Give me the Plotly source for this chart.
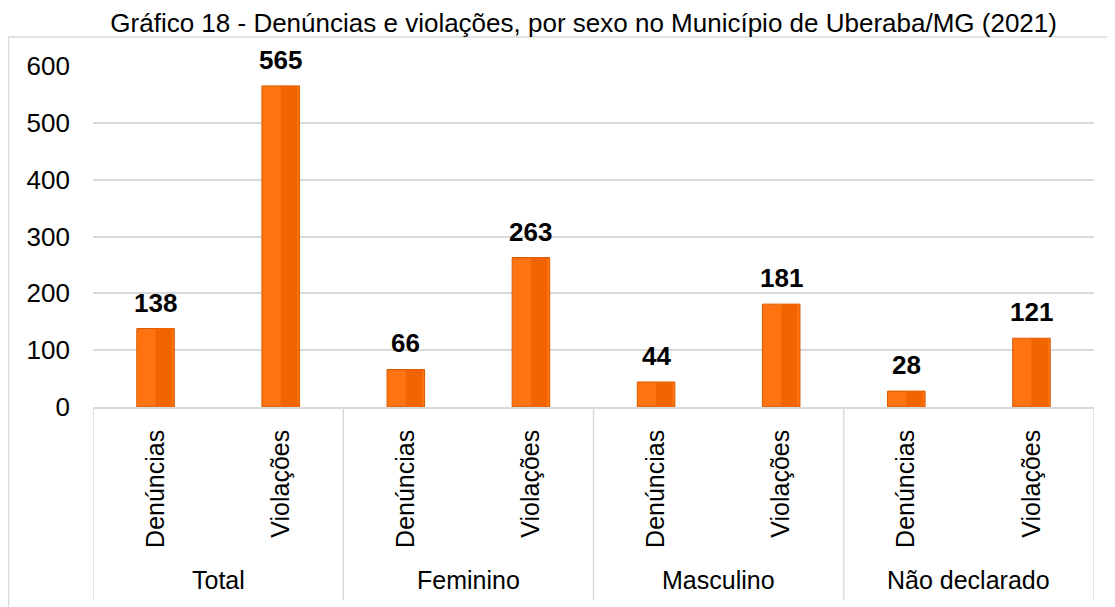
import plotly.graph_objects as go

groups = ["Total", "Feminino", "Masculino", "Não declarado"]
types = ["Denúncias", "Violações"]
values = [138, 565, 66, 263, 44, 181, 28, 121]
y_ticks = [0, 100, 200, 300, 400, 500, 600]
title_text = "Gráfico 18 - Denúncias e violações, por sexo no Município de Uberaba/MG (2021)"

labels = [t for g in groups for t in types]
xpos = list(range(len(values)))

FONT = "Liberation Sans, Arial, sans-serif"
GRID = "#D9D9D9"

fig = go.Figure()
fig.add_trace(go.Bar(
    x=xpos, y=values, width=0.3,
    marker=dict(color="#FF7410", line=dict(color="#D85A00", width=1)),
    hoverinfo="y", showlegend=False,
))
# darker right half to hint bevel shading
fig.add_trace(go.Bar(
    x=xpos, y=values, width=0.13, offset=0.0,
    marker=dict(color="#F26400", line=dict(width=0)),
    hoverinfo="skip", showlegend=False,
))

for i, v in enumerate(values):
    fig.add_annotation(x=i, y=v, text=f"<b>{v}</b>", showarrow=False,
                       yanchor="middle", yshift=26,
                       font=dict(family=FONT, size=26, color="#000000"))

# group labels and dividers
for gi, g in enumerate(groups):
    fig.add_annotation(x=gi * 2 + 0.5, y=-0.507, xref="x", yref="paper",
                       text=g, showarrow=False, yanchor="middle",
                       font=dict(family=FONT, size=25, color="#000000"))
for k in range(len(groups) + 1):
    fig.add_shape(type="line", xref="x", yref="paper",
                  x0=k * 2 - 0.5, x1=k * 2 - 0.5, y0=0, y1=-0.565,
                  line=dict(color=GRID, width=1.5))

# outer chart border
fig.add_shape(type="rect", xref="paper", yref="paper",
              x0=-0.0845, x1=1.0195, y0=-0.6, y1=1.085,
              line=dict(color=GRID, width=1.5), fillcolor="rgba(0,0,0,0)",
              layer="below")

fig.update_layout(
    width=1107, height=599,
    margin=dict(l=85, r=21, t=58, b=200),
    paper_bgcolor="white", plot_bgcolor="white",
    barmode="overlay",
    title=dict(text=title_text, x=0.52, xref="container", xanchor="center",
               y=0.975, yref="container", yanchor="middle",
               font=dict(family=FONT, size=26, color="#000000")),
    xaxis=dict(range=[-0.5, 7.5], tickmode="array", tickvals=xpos, ticktext=labels,
               tickangle=-90, ticks="", ticklabelstandoff=11,
               showline=True, linecolor=GRID, linewidth=1.5,
               showgrid=False, zeroline=False,
               tickfont=dict(family=FONT, size=25, color="#000000")),
    yaxis=dict(range=[0, 600], tickmode="array", tickvals=y_ticks,
               showgrid=True, gridcolor=GRID, gridwidth=1.5,
               zeroline=False, showline=False, ticks="", ticklabelstandoff=22,
               tickfont=dict(family=FONT, size=26, color="#000000")),
)

fig.write_html("out.html")
